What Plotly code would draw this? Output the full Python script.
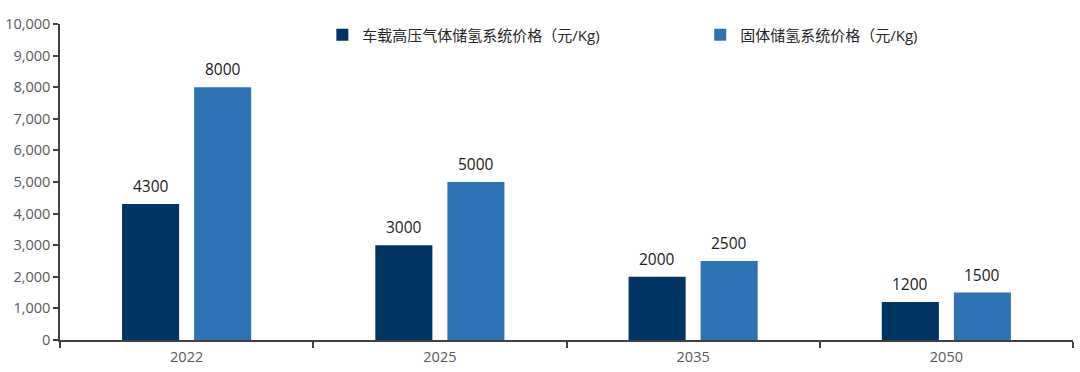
import plotly.graph_objects as go

categories = ["2022", "2025", "2035", "2050"]
series_names = ["车载高压气体储氢系统价格（元/Kg)", "固体储氢系统价格（元/Kg)"]
gas_values = [4300, 3000, 2000, 1200]
solid_values = [8000, 5000, 2500, 1500]
y_ticks = [0, 1000, 2000, 3000, 4000, 5000, 6000, 7000, 8000, 9000, 10000]

colors = ["#003462", "#2E74B5"]
font_family = "Open Sans, Noto Sans CJK SC, sans-serif"

fig = go.Figure()
for name, vals, col, lg in zip(series_names, [gas_values, solid_values], colors, ["legend", "legend2"]):
    fig.add_trace(go.Bar(x=categories, y=vals, name=name, legend=lg,
                         marker=dict(color=col, line=dict(width=0))))

annotations = []
for vals, shift in zip([gas_values, solid_values], [-36, 36]):
    for i, v in enumerate(vals):
        annotations.append(dict(x=i, y=v, xref="x", yref="y", text=str(v), showarrow=False,
                                xshift=shift, yshift=5, yanchor="bottom",
                                font=dict(size=15.5, color="#1a1a1a", family=font_family)))

legend_common = dict(orientation="h", yanchor="middle", xanchor="left",
                     font=dict(size=15, color="#262626"), bgcolor="rgba(0,0,0,0)",
                     itemwidth=30)

fig.update_layout(
    width=1080, height=372,
    margin=dict(l=60, r=7, t=24, b=32, autoexpand=False),
    plot_bgcolor="white", paper_bgcolor="white",
    barmode="group", bargap=0.431, bargroupgap=0.208,
    font=dict(family=font_family, color="#595959", size=14),
    legend=dict(x=0.259, y=0.965, **legend_common),
    legend2=dict(x=0.632, y=0.965, **legend_common),
    annotations=annotations,
    showlegend=True,
)
fig.update_xaxes(type="category", range=[-0.5, 3.5], showline=True, linecolor="#404040", linewidth=1.5,
                 ticks="outside", tickson="boundaries", ticklen=6, tickcolor="#404040", tickwidth=1.5,
                 tickfont=dict(size=14.5, color="#595959"), showgrid=False, automargin=False,
                 ticklabelstandoff=3)
fig.update_yaxes(range=[0, 10000], tickvals=y_ticks, tickformat=",d", showline=True,
                 linecolor="#404040", linewidth=1.5, ticks="outside", ticklen=5,
                 tickcolor="#404040", tickwidth=1.5, showgrid=False, zeroline=False,
                 tickfont=dict(size=14.5, color="#595959"), automargin=False)

fig.write_html("out.html", config={"displayModeBar": False},
               post_script="document.body.style.margin='0px';")
